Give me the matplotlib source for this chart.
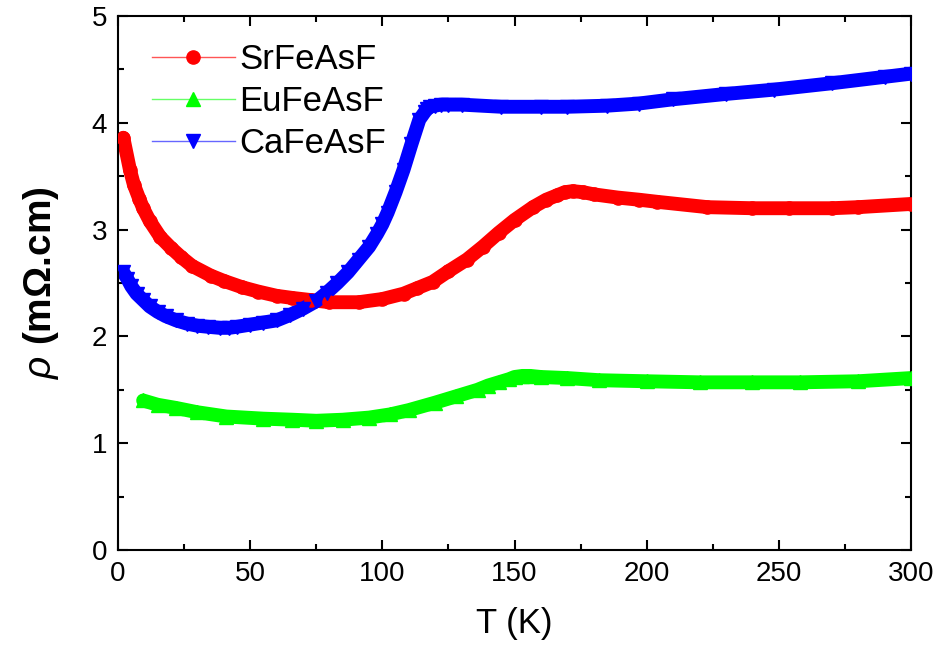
import matplotlib
matplotlib.use("Agg")
import matplotlib.pyplot as plt
from matplotlib.lines import Line2D
from matplotlib.ticker import MultipleLocator

plt.rcParams['font.family'] = ['Liberation Sans', 'DejaVu Sans']
plt.rcParams['mathtext.fontset'] = 'custom'
plt.rcParams['mathtext.it'] = 'Liberation Sans:italic'
plt.rcParams['mathtext.rm'] = 'Liberation Sans'

# SrFeAsF
sr_T = [2, 4.5, 6, 8, 9.5, 12, 16, 20, 24, 28, 35, 40, 47, 53, 60, 66, 73, 80,
        91, 100, 108, 113, 119, 125, 132, 138, 144, 150, 157, 162, 166, 169, 172,
        176, 180, 189, 197, 204, 223, 240, 254, 270, 280, 300]
sr_rho = [3.86, 3.56, 3.42, 3.29, 3.20, 3.08, 2.93, 2.83, 2.74, 2.66, 2.57, 2.52,
          2.46, 2.42, 2.38, 2.36, 2.34, 2.32, 2.32, 2.35, 2.40, 2.45, 2.51, 2.61,
          2.72, 2.84, 2.97, 3.09, 3.21, 3.28, 3.32, 3.35, 3.36, 3.35, 3.33, 3.30,
          3.28, 3.26, 3.21, 3.20, 3.20, 3.20, 3.21, 3.24]

# EuFeAsF
eu_T = [9.5, 15, 22, 30, 41, 55, 66, 75, 85, 95, 103, 110, 120, 128, 136, 140,
        144, 148, 150, 153, 156, 160, 170, 182, 200, 220, 240, 258, 280, 300]
eu_rho = [1.40, 1.36, 1.33, 1.29, 1.25, 1.23, 1.22, 1.21, 1.22, 1.24, 1.27, 1.31,
          1.38, 1.44, 1.50, 1.54, 1.57, 1.60, 1.62, 1.63, 1.63, 1.62, 1.61, 1.59,
          1.58, 1.57, 1.57, 1.57, 1.58, 1.61]

# CaFeAsF
ca_T = [2, 3.5, 5, 7, 9.5, 12, 15, 18, 22, 26, 30, 34, 38.5, 42, 45, 50, 55, 60,
        65, 70, 75, 79, 83, 87, 91, 95, 98, 100, 102, 105, 108, 111, 114, 116, 117,
        118, 120, 122, 125, 130, 145, 160, 170, 185, 197, 210, 230, 248, 270, 290,
        300]
ca_rho = [2.60, 2.54, 2.47, 2.40, 2.34, 2.28, 2.23, 2.19, 2.15, 2.12, 2.10, 2.09,
          2.08, 2.08, 2.09, 2.11, 2.13, 2.15, 2.20, 2.26, 2.33, 2.41, 2.50, 2.60,
          2.72, 2.84, 2.96, 3.05, 3.16, 3.35, 3.56, 3.80, 4.03, 4.10, 4.13, 4.15,
          4.16, 4.17, 4.17, 4.17, 4.15, 4.15, 4.15, 4.16, 4.18, 4.22, 4.27, 4.31,
          4.37, 4.43, 4.46]

series = [
    ("SrFeAsF", sr_T, sr_rho, "#ff0000", "#ff5555", "o"),
    ("EuFeAsF", eu_T, eu_rho, "#00ff00", "#66ff66", "^"),
    ("CaFeAsF", ca_T, ca_rho, "#0000ff", "#6666ff", "v"),
]

fig = plt.figure(figsize=(9.39, 6.52), dpi=100)
ax = fig.add_axes([0.1257, 0.1564, 0.8445, 0.8191])

handles = []
for name, T, rho, col, light, mk in series:
    ax.plot(T, rho, color=col, lw=10, solid_capstyle='round',
            solid_joinstyle='round', zorder=2)
    ax.plot(T, rho, linestyle='none', marker=mk, color=col, ms=9.5, zorder=3)
    handles.append(Line2D([], [], color=light, lw=1.0, marker=mk,
                          markersize=9.5, markerfacecolor=col, markeredgecolor=col))

ax.set_xlim(0, 300)
ax.set_ylim(0, 5)
ax.xaxis.set_major_locator(MultipleLocator(50))
ax.xaxis.set_minor_locator(MultipleLocator(25))
ax.yaxis.set_major_locator(MultipleLocator(1))
ax.yaxis.set_minor_locator(MultipleLocator(0.5))
ax.tick_params(which='both', direction='in', top=True, right=True, width=1.5,
               labelsize=20, pad=8)
ax.tick_params(which='major', length=7)
ax.tick_params(which='minor', length=4)
for s in ax.spines.values():
    s.set_linewidth(1.5)

ax.set_xlabel("T (K)", fontsize=25, labelpad=14)
ax.set_ylabel(r"$\rho$ (mΩ.cm)", fontsize=28, fontweight='bold', labelpad=22)

leg = ax.legend(handles, [s[0] for s in series], loc='upper left', frameon=False,
                fontsize=25, handlelength=2.4, handletextpad=0.12, labelspacing=0.26,
                bbox_to_anchor=(0.025, 0.975), borderaxespad=0)

fig.savefig("out.png", dpi=100)
